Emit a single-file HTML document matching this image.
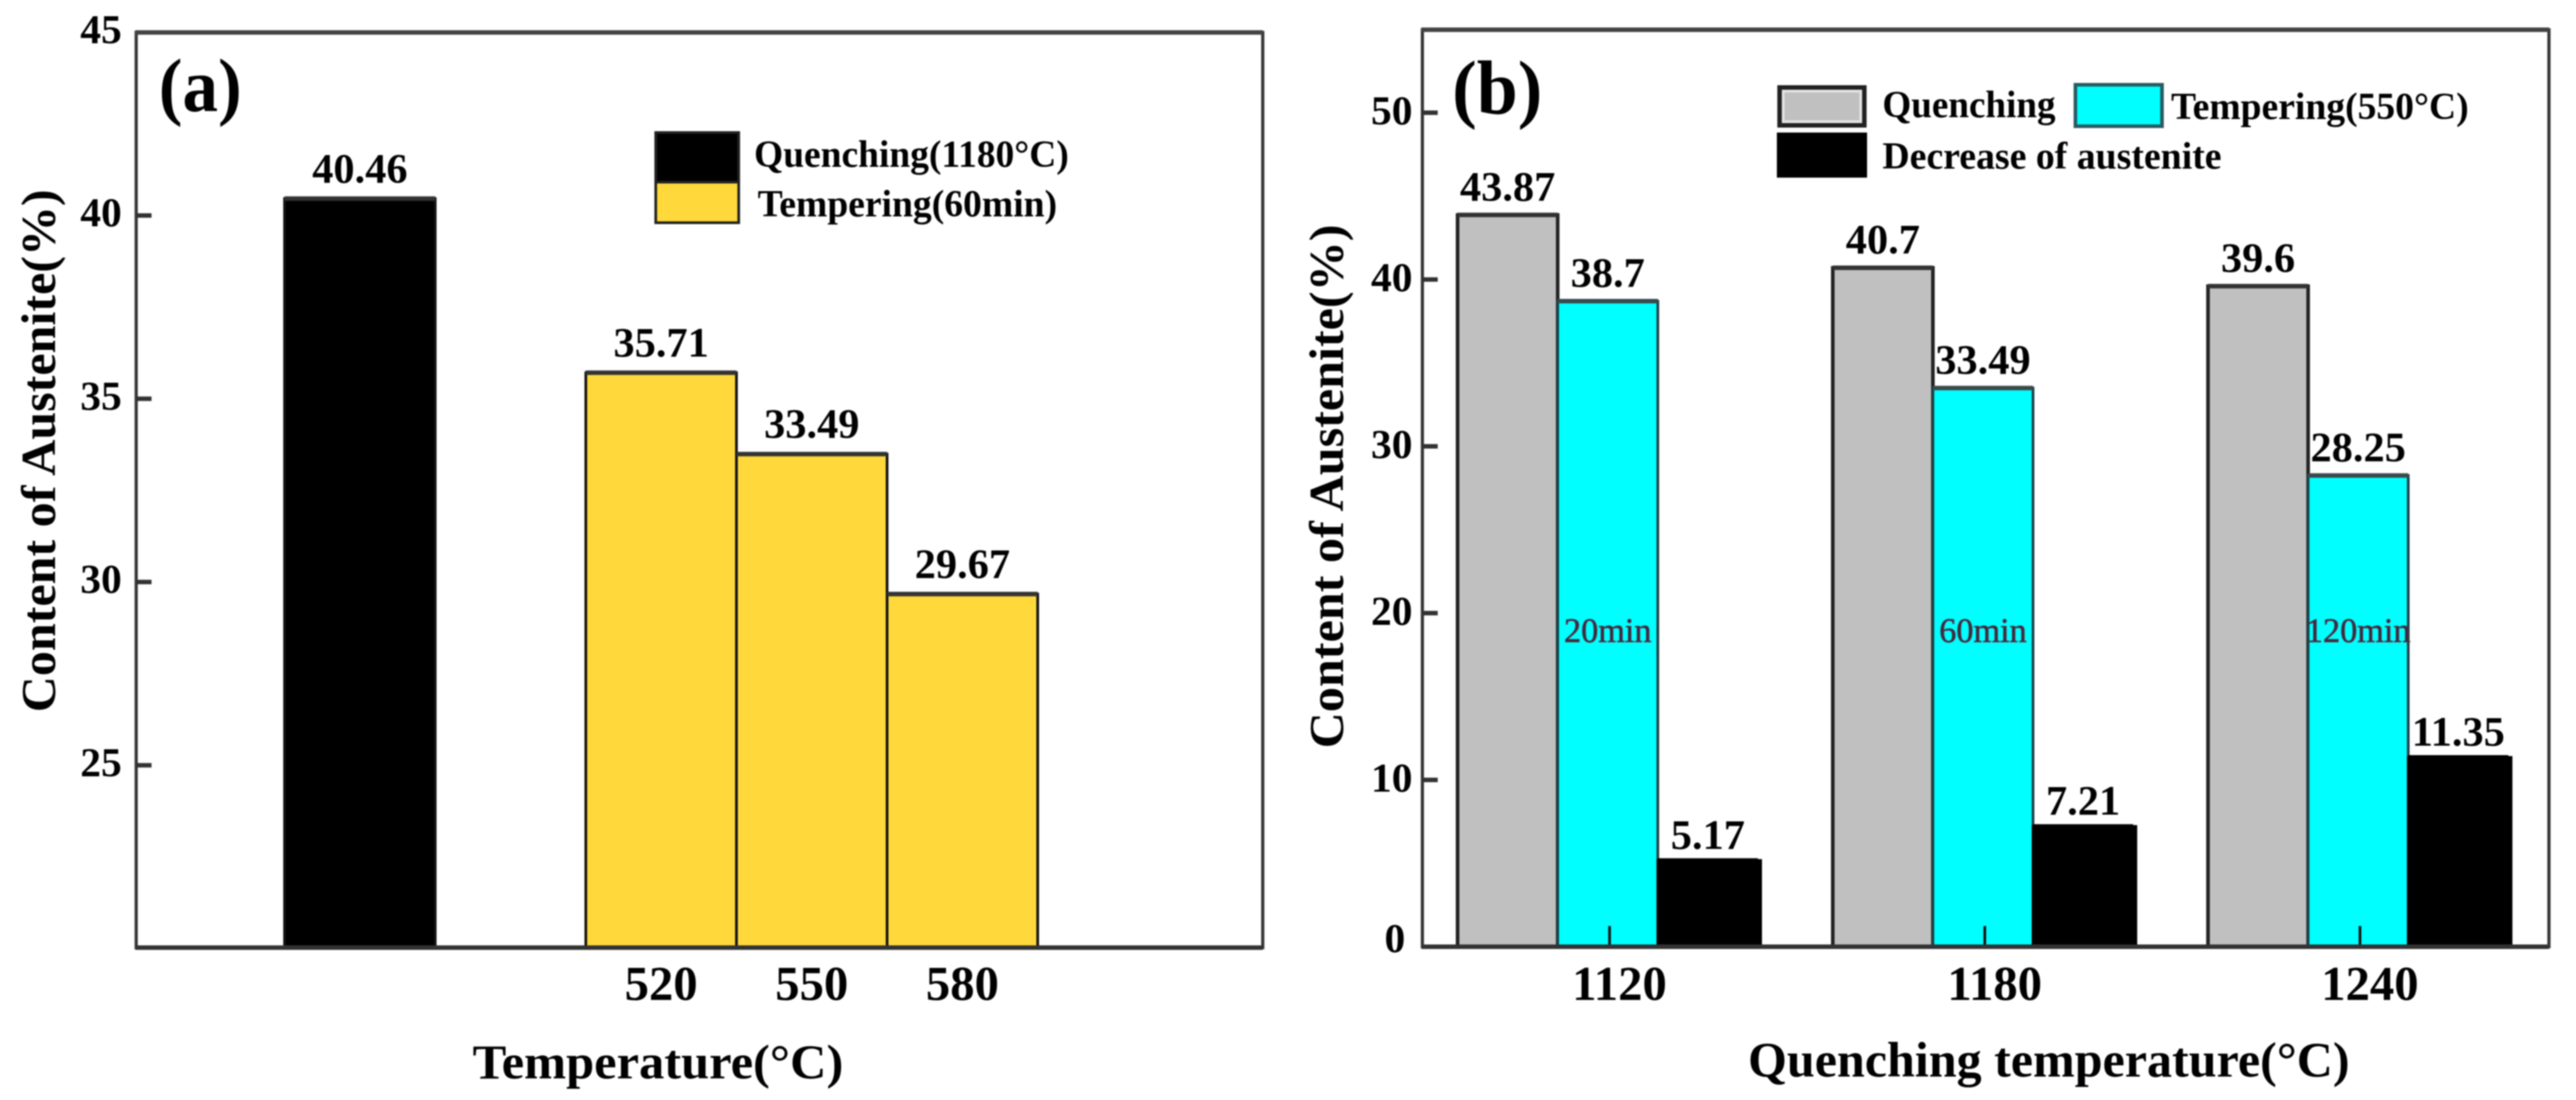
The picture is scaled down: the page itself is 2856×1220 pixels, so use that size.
<!DOCTYPE html>
<html lang="en">
<head>
<meta charset="utf-8">
<title>Austenite content charts</title>
<style>
html,body{margin:0;padding:0;background:#fff;width:2856px;height:1220px;overflow:hidden}
svg{display:block;filter:blur(0.7px)}
text{font-family:"Liberation Serif",serif;font-weight:bold;fill:#000}
</style>
</head>
<body>
<svg id="fig" xmlns="http://www.w3.org/2000/svg" width="2856" height="1220" viewBox="0 0 2856 1220">
  <rect width="2856" height="1220" fill="#fff"/>
  <g id="panelA">
    <rect x="151" y="36" width="1249" height="1015" fill="none" stroke="#333" stroke-width="3.5"/>
    <line x1="150" y1="36" x2="1400" y2="36" stroke="#444" stroke-width="5"/>
    <text x="176" y="123" font-size="84" textLength="92" lengthAdjust="spacingAndGlyphs">(a)</text>
    <text transform="translate(61,790) rotate(-90)" font-size="54" textLength="580" lengthAdjust="spacingAndGlyphs">Content of Austenite(%)</text>
    <text x="524" y="1196" font-size="54" textLength="411" lengthAdjust="spacingAndGlyphs">Temperature(°C)</text>
    <g>
      <rect x="727" y="147" width="92" height="55" fill="#000" stroke="#222" stroke-width="3"/>
      <rect x="727" y="202" width="92" height="45" fill="#FFD93B" stroke="#222" stroke-width="3"/>
      <text x="836" y="185" font-size="42" textLength="349" lengthAdjust="spacingAndGlyphs">Quenching(1180°C)</text>
      <text x="840" y="240" font-size="42" textLength="332" lengthAdjust="spacingAndGlyphs">Tempering(60min)</text>
    </g>
  </g>
  <g id="panelB">
    <rect x="1577" y="33" width="1249" height="1017" fill="none" stroke="#333" stroke-width="3.5"/>
    <line x1="1576" y1="33" x2="2826" y2="33" stroke="#444" stroke-width="5"/>
    <text x="1610" y="126" font-size="85" textLength="100" lengthAdjust="spacingAndGlyphs">(b)</text>
    <text transform="translate(1489,830) rotate(-90)" font-size="54" textLength="581" lengthAdjust="spacingAndGlyphs">Content of Austenite(%)</text>
    <text x="1938" y="1194" font-size="55" textLength="667" lengthAdjust="spacingAndGlyphs">Quenching temperature(°C)</text>
    <g>
      <rect x="1973" y="97" width="94" height="42" fill="#C0C0C0" stroke="#222" stroke-width="5"/>
      <rect x="1977" y="101" width="86" height="34" fill="none" stroke="#e4e4e4" stroke-width="3"/>
      <rect x="2301" y="94" width="96" height="46" fill="#00FFFF" stroke="#2a5a60" stroke-width="4"/>
      <rect x="1970" y="147" width="100" height="50" fill="#000"/>
      <text x="2087" y="130" font-size="42" textLength="192" lengthAdjust="spacingAndGlyphs">Quenching</text>
      <text x="2407" y="132" font-size="42" textLength="330" lengthAdjust="spacingAndGlyphs">Tempering(550°C)</text>
      <text x="2087" y="187" font-size="42" textLength="376" lengthAdjust="spacingAndGlyphs">Decrease of austenite</text>
    </g>
  </g>
</svg>
<script>
const aCategories = ['Quenching', '', '520', '550', '580'];
const aValues = [40.46, null, 35.71, 33.49, 29.67];
const aColors = ['#000000', null, '#FFD93B', '#FFD93B', '#FFD93B'];
const aTicks = [25, 30, 35, 40, 45];
const aTickCategories = ['520', '550', '580'];

const bCategories = ['1120', '1180', '1240'];
const bQuenching = [43.87, 40.7, 39.6];
const bTempering = [38.7, 33.49, 28.25];
const bDecrease = [5.17, 7.21, 11.35];
const bTimes = ['20min', '60min', '120min'];
const bTicks = [0, 10, 20, 30, 40, 50];

const SVGNS = 'http://www.w3.org/2000/svg';
const panelA = document.getElementById('panelA');
const panelB = document.getElementById('panelB');

function mk(parent, tag, attrs, txt) {
  const el = document.createElementNS(SVGNS, tag);
  for (const k in attrs) el.setAttribute(k, attrs[k]);
  if (txt !== undefined) el.textContent = txt;
  parent.appendChild(el);
  return el;
}

/* panel (a) axes */
function ayScale(v) { return 1052 - (v - 20) * 40.65; }
function axCenter(i) { return 399 + 167 * i; }

/* panel (b) axes */
function byScale(v) { return 1050 - v * 18.5; }
function bxStart(i) { return 1616 + 416 * i; }
const bBarW = 111;

aTicks.forEach(function (t) {
  const y = ayScale(t);
  if (t < 45) {
    const tick = mk(panelA, 'line', { x1: 150, x2: 168, y1: y, y2: y, stroke: '#333', 'stroke-width': 5 });
    
    
  }
  const lab = mk(panelA, 'text', { x: 135, y: y + 12, 'font-size': 46, 'text-anchor': 'end' }, String(t));
  
  
});

aCategories.forEach(function (cat, i) {
  const v = aValues[i];
  if (v === null) return;
  const cx = axCenter(i);
  const w = 167;
  const top = ayScale(v);
  const bar = mk(panelA, 'rect', { x: cx - w / 2, y: top, width: w, height: 1051 - top, fill: aColors[i], stroke: '#111', 'stroke-width': 3 });
  
  
  const edge = mk(panelA, 'line', { x1: cx - w / 2, x2: cx + w / 2, y1: top, y2: top, stroke: '#333', 'stroke-width': 5 });
  
  
  const lab = mk(panelA, 'text', { x: cx, y: top - 18, 'font-size': 47, 'text-anchor': 'middle' }, String(v));
  
  
});

aTickCategories.forEach(function (cat) {
  const i = aCategories.indexOf(cat);
  const lab = mk(panelA, 'text', { x: axCenter(i), y: 1109, 'font-size': 54, 'text-anchor': 'middle' }, cat);
  
  
});

const aBase = mk(panelA, 'line', { x1: 150, x2: 1400, y1: 1051, y2: 1051, stroke: '#333', 'stroke-width': 5 });



bTicks.forEach(function (t) {
  const y = byScale(t);
  const tick = mk(panelB, 'line', { x1: 1576, x2: 1594, y1: y, y2: y, stroke: '#333', 'stroke-width': 5 });
  
  
  const lab = mk(panelB, 'text', { x: t === 0 ? 1558 : 1566, y: Math.min(y + 13, 1056), 'font-size': 46, 'text-anchor': 'end' }, String(t));
  
  
});

const bSeries = [
  { name: 'quenching', values: bQuenching, fill: '#C0C0C0', stroke: '#222', edge: '#333', sw: 4, gap: 16 },
  { name: 'tempering', values: bTempering, fill: '#00FFFF', stroke: '#1c3f44', edge: '#3a4a4c', sw: 3, gap: 16 },
  { name: 'decrease', values: bDecrease, fill: '#000000', stroke: '#000', edge: '#000', sw: 3, gap: 13 }
];

bCategories.forEach(function (cat, i) {
  const x0 = bxStart(i);
  bSeries.forEach(function (s, j) {
    const v = s.values[i];
    const top = byScale(v);
    const x = x0 + bBarW * j;
    const bar = mk(panelB, 'rect', { x: x, y: top, width: bBarW + (j === 2 ? 3 : 0), height: 1050 - top, fill: s.fill, stroke: s.stroke, 'stroke-width': s.sw });
    
    
    const edge = mk(panelB, 'line', { x1: x, x2: x + bBarW, y1: top, y2: top, stroke: s.edge, 'stroke-width': 5 });
    
    
    const lab = mk(panelB, 'text', { x: x + bBarW / 2, y: top - s.gap, 'font-size': 47, 'text-anchor': 'middle' }, String(v));
    
    
  });
  const cyanMid = x0 + bBarW * 1.5;
  const tm = mk(panelB, 'text', { x: cyanMid, y: 712, 'font-size': 38, 'text-anchor': 'middle', stroke: '#5a3040', 'stroke-width': 0.7, style: 'font-weight:normal;fill:#3a2a40' }, bTimes[i]);
  
  
  const xt = mk(panelB, 'line', { x1: cyanMid + 2, x2: cyanMid + 2, y1: 1027, y2: 1050, stroke: '#111', 'stroke-width': 3 });
  
  
  const xl = mk(panelB, 'text', { x: cyanMid + 13, y: 1109, 'font-size': 54, 'text-anchor': 'middle' }, cat);
  
  
});

const bBase = mk(panelB, 'line', { x1: 1576, x2: 2826, y1: 1050, y2: 1050, stroke: '#333', 'stroke-width': 5 });


</script>
</body>
</html>
